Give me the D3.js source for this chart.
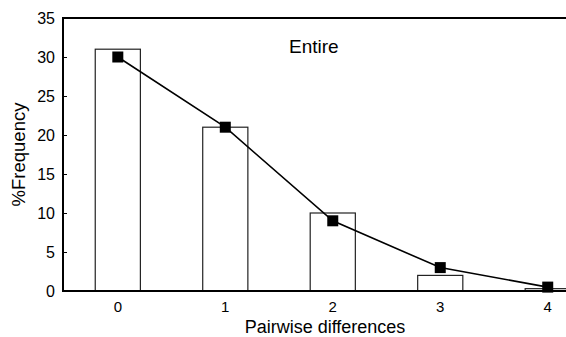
<!DOCTYPE html>
<html>
<head>
<meta charset="utf-8">
<script src="https://cdn.jsdelivr.net/npm/d3@7"></script>
<style>
  body { margin: 0; background: #fff; }
  text { font-family: "Liberation Sans", Arial, sans-serif; fill: #000; }
</style>
</head>
<body>
<svg width="566" height="337"></svg>
<script>
// data
var differences = [0, 1, 2, 3, 4];
var observed = [31, 21, 10, 2, 0.3];
var expected = [30, 21, 9, 3, 0.5];
var yTicks = [0, 5, 10, 15, 20, 25, 30, 35];

var svg = d3.select('svg');
// plot edges (note: "top" is reserved on window)
var plotLeft = 63, plotTop = 18, plotBottom = 291, plotRight = 566;

var x = d3.scaleLinear().domain([-0.51, 4.17]).range([plotLeft, plotRight]);
var y = d3.scaleLinear().domain([0, 35]).range([plotBottom, plotTop]);
var barW = x(0.42) - x(0);

// bars
svg.append('g').selectAll('rect')
    .data(differences)
    .enter().append('rect')
    .attr('x', (d) => x(d) - barW / 2)
    .attr('y', (d, i) => y(observed[i]))
    .attr('width', barW)
    .attr('height', (d, i) => y(0) - y(observed[i]))
    .style('fill', 'white')
    .attr('stroke', '#222')
    .attr('stroke-width', 1.2);

// frame: left axis, top line, bottom axis
svg.append('path')
    .attr('d', `M ${plotRight},${plotTop} L ${plotLeft},${plotTop} L ${plotLeft},${plotBottom} L ${plotRight},${plotBottom}`)
    .attr('fill', 'none')
    .attr('stroke', '#000')
    .attr('stroke-width', 2);

// y axis ticks (inside) and labels
var yAxis = d3.axisRight(y).tickValues(yTicks).tickSize(4).tickFormat('');
svg.append('g').attr('transform', `translate(${plotLeft},0)`).call(yAxis)
    .call(g => g.select('.domain').remove())
    .call(g => g.selectAll('line').attr('stroke', '#000'));

svg.append('g').selectAll('text')
    .data(yTicks)
    .enter().append('text')
    .attr('x', plotLeft - 8)
    .attr('y', (d) => y(d))
    .attr('dy', '0.35em')
    .attr('text-anchor', 'end')
    .style('font-size', '16px')
    .text((d) => d);

// x labels
svg.append('g').selectAll('text')
    .data(differences)
    .enter().append('text')
    .attr('x', (d) => x(d))
    .attr('y', 312)
    .attr('text-anchor', 'middle')
    .style('font-size', '15px')
    .text((d) => d);

// line + square markers
var line = d3.line().x((d) => x(d)).y((d, i) => y(expected[i]));
svg.append('path')
    .datum(differences)
    .attr('d', line)
    .attr('fill', 'none')
    .attr('stroke', '#000')
    .attr('stroke-width', 1.6);

var m = 11;
svg.append('g').selectAll('rect')
    .data(differences)
    .enter().append('rect')
    .attr('x', (d) => x(d) - m / 2)
    .attr('y', (d, i) => y(expected[i]) - m / 2)
    .attr('width', m)
    .attr('height', m)
    .style('fill', '#000');

// titles
svg.append('text')
    .attr('x', 325)
    .attr('y', 333)
    .attr('text-anchor', 'middle')
    .style('font-size', '18px')
    .text('Pairwise differences');

svg.append('text')
    .attr('transform', `translate(25,${(plotTop + plotBottom) / 2}) rotate(-90)`)
    .attr('text-anchor', 'middle')
    .style('font-size', '18.5px')
    .text('%Frequency');

svg.append('text')
    .attr('x', 289)
    .attr('y', 53)
    .style('font-size', '19px')
    .text('Entire');
</script>
</body>
</html>
